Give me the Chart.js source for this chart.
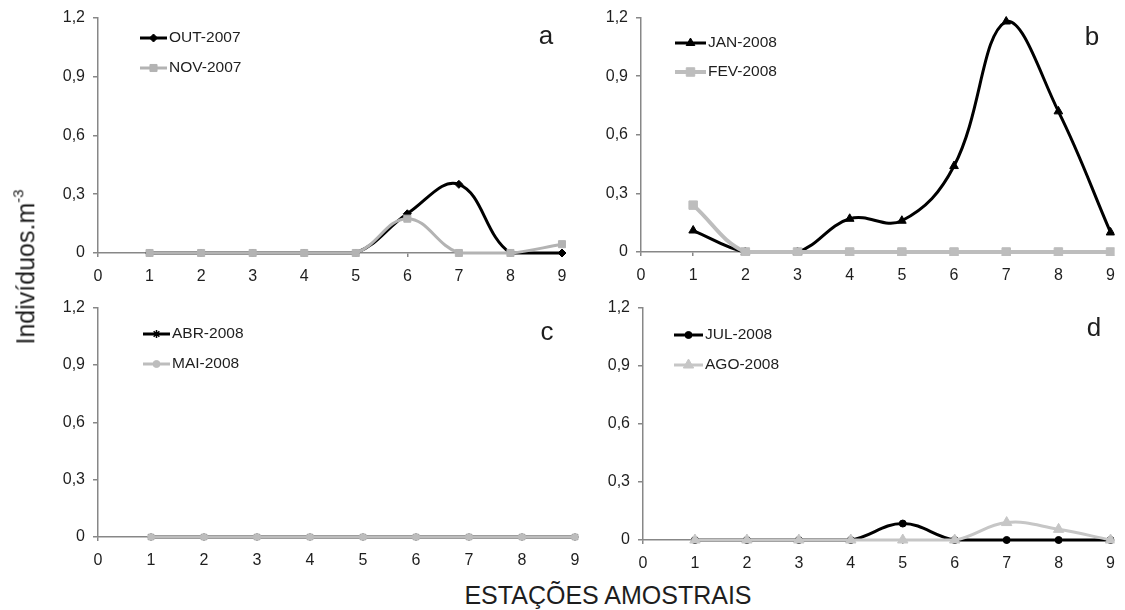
<!DOCTYPE html>
<html>
<head>
<meta charset="utf-8">
<script src="https://cdn.jsdelivr.net/npm/chart.js@4.4.0/dist/chart.umd.min.js"></script>
<style>
  body { margin: 0; background: #fff; width: 1125px; height: 610px; position: relative; overflow: hidden;
         font-family: "Liberation Sans", Arial, sans-serif; }
  .panel { position: absolute; }
  #ytitle { position: absolute; left: 26px; top: 267px; transform: translate(-50%, -50%) rotate(-90deg);
            font-size: 25px; color: #1e1e1e; white-space: nowrap; }
  #ytitle sup { font-size: 15px; position: relative; top: -2px; }
  #xtitle { position: absolute; left: 608px; top: 595px; transform: translate(-50%, -50%);
            font-size: 25px; color: #1e1e1e; white-space: nowrap; }
</style>
</head>
<body>
<div class="panel" style="left:0px;top:0px;width:580px;height:290px"><canvas id="chartA"></canvas></div>
<div class="panel" style="left:560px;top:0px;width:565px;height:290px"><canvas id="chartB"></canvas></div>
<div class="panel" style="left:0px;top:290px;width:590px;height:285px"><canvas id="chartC"></canvas></div>
<div class="panel" style="left:560px;top:290px;width:565px;height:285px"><canvas id="chartD"></canvas></div>
<div id="ytitle">Indivíduos.m<sup>-3</sup></div>
<div id="xtitle">ESTAÇÕES AMOSTRAIS</div>

<script>
// estações amostrais 1..9
const stations = [1, 2, 3, 4, 5, 6, 7, 8, 9];
const xTicks = [0, 1, 2, 3, 4, 5, 6, 7, 8, 9];
const yTicks = [0, 0.3, 0.6, 0.9, 1.2];

// a
const out2007 = [0, 0, 0, 0, 0, 0.20, 0.35, 0, 0];
const nov2007 = [0, 0, 0, 0, 0, 0.175, 0, 0, 0.045];
// b
const jan2008 = [0.11, 0, 0, 0.17, 0.16, 0.44, 1.18, 0.72, 0.10];
const fev2008 = [0.24, 0, 0, 0, 0, 0, 0, 0, 0];
// c
const abr2008 = [0, 0, 0, 0, 0, 0, 0, 0, 0];
const mai2008 = [0, 0, 0, 0, 0, 0, 0, 0, 0];
// d
const jul2008 = [0, 0, 0, 0, 0.085, 0, 0, 0, 0];
const ago2008 = [0, 0, 0, 0, 0, 0, 0.09, 0.055, 0];

const FONT = '"Liberation Sans", Arial, sans-serif';
const AXIS = '#878787';

function pts(vals) {
  return stations.map((s, i) => ({ x: s, y: vals[i] }));
}

function series(label, vals, color, width, style, radius, order) {
  return {
    label: label,
    data: pts(vals),
    borderColor: color,
    borderWidth: width,
    pointStyle: style,
    pointRadius: radius,
    pointBackgroundColor: color,
    pointBorderColor: color,
    pointBorderWidth: style === 'star' ? 1.5 : 1,
    tension: 0.4,
    order: order,
    clip: 4
  };
}

// legenda no estilo Excel (linha + marcador) e letra do painel
const panelDecor = {
  id: 'panelDecor',
  afterDraw(chart, args, o) {
    const ctx = chart.ctx;
    ctx.save();
    ctx.font = '15.5px ' + FONT;
    ctx.textBaseline = 'middle';
    chart.data.datasets.forEach((ds, i) => {
      const y = o.legendY + i * o.legendGap;
      const x0 = o.legendX, x1 = o.legendX + o.legendLen;
      ctx.strokeStyle = ds.borderColor;
      ctx.lineWidth = ds.borderWidth;
      ctx.beginPath(); ctx.moveTo(x0, y); ctx.lineTo(x1, y); ctx.stroke();
      ctx.fillStyle = ds.pointBackgroundColor;
      ctx.strokeStyle = ds.pointBorderColor;
      ctx.lineWidth = ds.pointBorderWidth;
      Chart.helpers.drawPoint(ctx, { pointStyle: ds.pointStyle, radius: ds.pointRadius, rotation: 0, borderWidth: ds.pointBorderWidth }, (x0 + x1) / 2, y);
      ctx.fillStyle = '#1e1e1e';
      ctx.textAlign = 'left';
      ctx.fillText(ds.label, x1 + 2, y);
    });
    ctx.font = '26px ' + FONT;
    ctx.textAlign = 'center';
    ctx.fillStyle = '#1e1e1e';
    ctx.fillText(o.letter, o.letterX, o.letterY);
    ctx.restore();
  }
};

function yFmt(v) {
  return v === 0 ? '0' : v.toFixed(1).replace('.', ',');
}

function makePanel(id, datasets, p) {
  return new Chart(document.getElementById(id), {
    type: 'line',
    data: { datasets: datasets },
    options: {
      responsive: true,
      maintainAspectRatio: false,
      animation: false,
      events: [],
      layout: { padding: { top: p.top, right: p.right, left: 0, bottom: 0 } },
      plugins: {
        legend: { display: false },
        tooltip: { enabled: false },
        panelDecor: p.decor
      },
      scales: {
        x: {
          type: 'linear',
          min: 0, max: 9,
          afterBuildTicks: s => { s.ticks = xTicks.map(v => ({ value: v })); },
          afterFit: s => { s.height = p.xh; },
          grid: { drawOnChartArea: false, drawTicks: true, tickLength: 4, color: AXIS, lineWidth: 1.5 },
          border: { color: AXIS, width: 1.5 },
          ticks: { padding: 10, color: '#1e1e1e', font: { family: FONT, size: 16 }, maxRotation: 0 }
        },
        y: {
          min: 0, max: 1.2,
          afterBuildTicks: s => { s.ticks = yTicks.map(v => ({ value: v })); },
          afterFit: s => { s.width = p.yw; },
          grid: { drawOnChartArea: false, drawTicks: true, tickLength: 5, color: AXIS, lineWidth: 1.5 },
          border: { color: AXIS, width: 1.5 },
          ticks: { padding: 8, color: '#1e1e1e', font: { family: FONT, size: 16 }, callback: v => yFmt(v) }
        }
      }
    },
    plugins: [panelDecor]
  });
}

makePanel('chartA', [
  series('OUT-2007', out2007, '#000000', 3, 'rectRot', 4, 1),
  series('NOV-2007', nov2007, '#b3b3b3', 3, 'rect', 5, 0)
], { top: 17, right: 18, xh: 37, yw: 98,
     decor: { legendX: 140, legendY: 38, legendGap: 30, legendLen: 27, letter: 'a', letterX: 546, letterY: 37 } });

makePanel('chartB', [
  series('JAN-2008', jan2008, '#000000', 3, 'triangle', 5, 1),
  series('FEV-2008', fev2008, '#bdbdbd', 4, 'rect', 6, 0)
], { top: 17, right: 10, xh: 38, yw: 81,
     decor: { legendX: 115, legendY: 43, legendGap: 29, legendLen: 31, letter: 'b', letterX: 532, letterY: 38 } });

makePanel('chartC', [
  series('ABR-2008', abr2008, '#000000', 3, 'star', 4, 1),
  series('MAI-2008', mai2008, '#bdbdbd', 3, 'circle', 3.5, 0)
], { top: 14, right: 15, xh: 38, yw: 98,
     decor: { legendX: 143, legendY: 44, legendGap: 30, legendLen: 27, letter: 'c', letterX: 547, letterY: 43 } });

makePanel('chartD', [
  series('JUL-2008', jul2008, '#000000', 3, 'circle', 3.5, 1),
  series('AGO-2008', ago2008, '#c6c6c6', 3, 'triangle', 6, 0)
], { top: 17, right: 10, xh: 35, yw: 83,
     decor: { legendX: 114, legendY: 45, legendGap: 30, legendLen: 29, letter: 'd', letterX: 534, letterY: 39 } });
</script>
</body>
</html>
